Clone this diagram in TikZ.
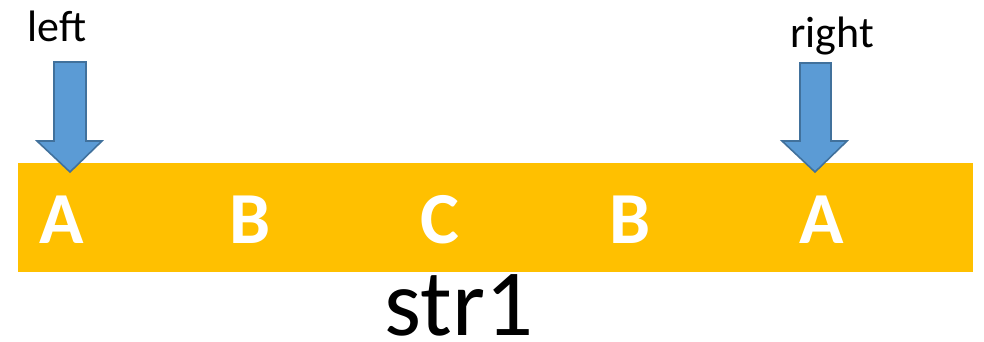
\documentclass[tikz,border=0pt]{standalone}
\usepackage{fontspec}
\setmainfont{Carlito}
\usetikzlibrary{positioning}
\definecolor{barorange}{HTML}{FFC000}
\definecolor{arrowblue}{HTML}{5B9BD5}
\definecolor{arrowedge}{HTML}{41719C}

\begin{document}
\begin{tikzpicture}[x=0.75pt, y=-0.75pt,
    letter/.style={text=white, font=\fontsize{55}{60}\selectfont\bfseries, anchor=base, inner sep=0pt},
    ptrlabel/.style={font=\fontsize{33}{36}\selectfont, anchor=base, inner sep=0pt},
    blockarrow/.style={fill=arrowblue, draw=arrowedge, line width=1.2pt, line join=miter}]
    \useasboundingbox (0,0) rectangle (984,342);

    % the string
    \node[fill=barorange, inner sep=0pt, minimum width=716.25pt, minimum height=81.75pt] (bar) at (495.5,217.5) {};
    \node[letter] (c1) at (62,243) {A};
    \node[letter] (c2) at (250,243) {B};
    \node[letter] (c3) at (440,243) {C};
    \node[letter] (c4) at (630,243) {B};
    \node[letter] (c5) at (822,243) {A};
    \node[font=\fontsize{71}{76}\selectfont, anchor=base, inner sep=0pt] (name) at (459,335) {str1};

    % pointers
    \node[ptrlabel] (left) at (57,42) {left};
    \node[ptrlabel] (right) at (832,48) {right};
    \draw[blockarrow] (54,62) -- (86,62) -- (86,141) -- (102,141) -- (70,172) -- (37,141) -- (54,141) -- cycle;
    \draw[blockarrow] (800,63) -- (831,63) -- (831,141) -- (847,141) -- (815,172) -- (782,141) -- (800,141) -- cycle;
\end{tikzpicture}
\end{document}
